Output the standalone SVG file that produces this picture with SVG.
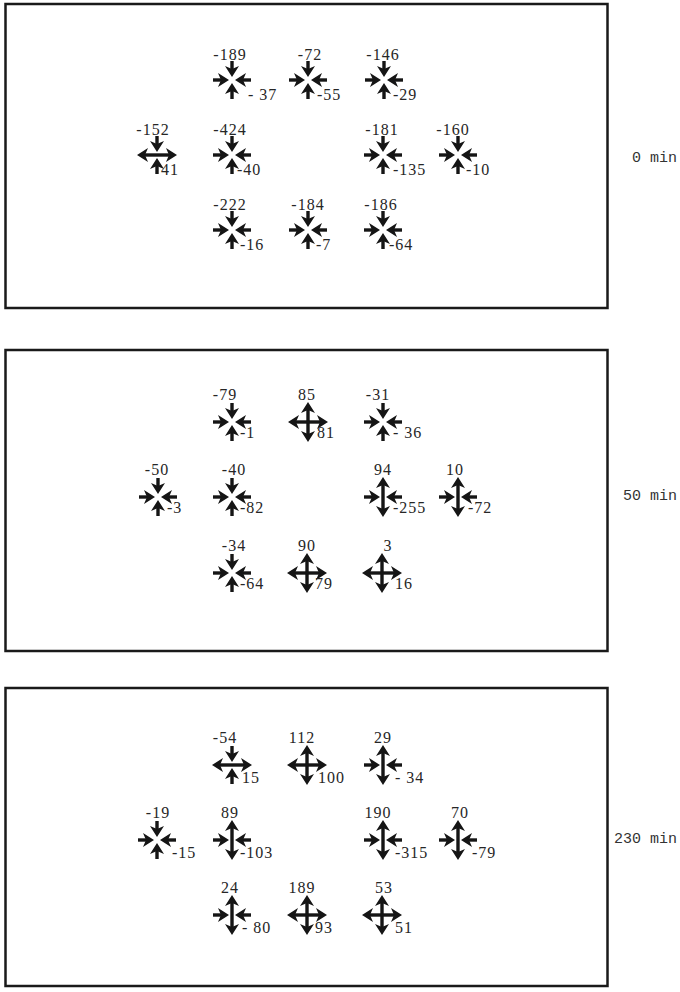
<svg xmlns="http://www.w3.org/2000/svg" width="680" height="992" viewBox="0 0 680 992">
<style>
.sh{stroke:#151515;stroke-width:3.4;fill:none}
.hd{fill:#151515}
.v{font-family:"Liberation Serif",serif;font-size:16px;fill:#262626;letter-spacing:1px}
.t{text-anchor:middle}
.tm{font-family:"Liberation Mono",monospace;font-size:15px;fill:#333;text-anchor:end}
.box{fill:none;stroke:#1a1a1a;stroke-width:2.5}
</style>
<defs>
<g id="inA"><path class="sh" d="M19,0 H10"/><path class="hd" d="M3,0 L14,-7 L11,0 L14,7 Z"/></g>
<g id="outA"><path class="sh" d="M0,0 H12"/><path class="hd" d="M20,0 L9,-7 L12,0 L9,7 Z"/></g>
<g id="vin"><use href="#inA" transform="rotate(90)"/><use href="#inA" transform="rotate(270)"/></g>
<g id="hin"><use href="#inA"/><use href="#inA" transform="rotate(180)"/></g>
<g id="vout"><use href="#outA" transform="rotate(90)"/><use href="#outA" transform="rotate(270)"/></g>
<g id="hout"><use href="#outA"/><use href="#outA" transform="rotate(180)"/></g>
</defs>
<rect width="680" height="992" fill="#ffffff"/>

<g id="panel-0min">
<rect class="box" x="5.5" y="4" width="602" height="304"/>
<text class="tm" x="677" y="162">0 min</text>
<g id="p0-a1" transform="translate(232,80)"><use href="#vin"/><use href="#hin"/><text class="v t" x="-2" y="-20">-189</text><text class="v" x="16" y="20">- 37</text></g>
<g id="p0-a2" transform="translate(308,80)"><use href="#vin"/><use href="#hin"/><text class="v t" x="2" y="-20">-72</text><text class="v" x="9" y="20">-55</text></g>
<g id="p0-a3" transform="translate(384,80)"><use href="#vin"/><use href="#hin"/><text class="v t" x="-1" y="-20">-146</text><text class="v" x="9" y="20">-29</text></g>
<g id="p0-b1" transform="translate(157,155)"><use href="#vin"/><use href="#hout"/><text class="v t" x="-4" y="-20">-152</text><text class="v" x="4" y="20">41</text></g>
<g id="p0-b2" transform="translate(232,155)"><use href="#vin"/><use href="#hin"/><text class="v t" x="-2" y="-20">-424</text><text class="v" x="5" y="20">-40</text></g>
<g id="p0-b3" transform="translate(383,155)"><use href="#vin"/><use href="#hin"/><text class="v t" x="-1" y="-20">-181</text><text class="v" x="10" y="20">-135</text></g>
<g id="p0-b4" transform="translate(458,155)"><use href="#vin"/><use href="#hin"/><text class="v t" x="-5" y="-20">-160</text><text class="v" x="8" y="20">-10</text></g>
<g id="p0-c1" transform="translate(232,230)"><use href="#vin"/><use href="#hin"/><text class="v t" x="-2" y="-20">-222</text><text class="v" x="8" y="20">-16</text></g>
<g id="p0-c2" transform="translate(308,230)"><use href="#vin"/><use href="#hin"/><text class="v t" x="0" y="-20">-184</text><text class="v" x="8" y="20">-7</text></g>
<g id="p0-c3" transform="translate(383,230)"><use href="#vin"/><use href="#hin"/><text class="v t" x="-2" y="-20">-186</text><text class="v" x="6" y="20">-64</text></g>
</g>

<g id="panel-50min">
<rect class="box" x="5.5" y="350" width="602" height="301"/>
<text class="tm" x="677" y="500">50 min</text>
<g id="p50-a1" transform="translate(232,422)"><use href="#vin"/><use href="#hin"/><text class="v t" x="-7" y="-22">-79</text><text class="v" x="8" y="16">-1</text></g>
<g id="p50-a2" transform="translate(308,422)"><use href="#vout"/><use href="#hout"/><text class="v t" x="-1" y="-22">85</text><text class="v" x="9" y="16">81</text></g>
<g id="p50-a3" transform="translate(383,422)"><use href="#vin"/><use href="#hin"/><text class="v t" x="-5" y="-22">-31</text><text class="v" x="10" y="16">- 36</text></g>
<g id="p50-b1" transform="translate(158,497)"><use href="#vin"/><use href="#hin"/><text class="v t" x="-1" y="-22">-50</text><text class="v" x="9" y="16">-3</text></g>
<g id="p50-b2" transform="translate(232,497)"><use href="#vin"/><use href="#hin"/><text class="v t" x="2" y="-22">-40</text><text class="v" x="8" y="16">-82</text></g>
<g id="p50-b3" transform="translate(383,497)"><use href="#vout"/><use href="#hin"/><text class="v t" x="0" y="-22">94</text><text class="v" x="10" y="16">-255</text></g>
<g id="p50-b4" transform="translate(458,497)"><use href="#vout"/><use href="#hin"/><text class="v t" x="-3" y="-22">10</text><text class="v" x="10" y="16">-72</text></g>
<g id="p50-c1" transform="translate(232,573)"><use href="#vin"/><use href="#hin"/><text class="v t" x="2" y="-22">-34</text><text class="v" x="8" y="16">-64</text></g>
<g id="p50-c2" transform="translate(307,573)"><use href="#vout"/><use href="#hout"/><text class="v t" x="0" y="-22">90</text><text class="v" x="8" y="16">79</text></g>
<g id="p50-c3" transform="translate(382,573)"><use href="#vout"/><use href="#hout"/><text class="v t" x="6" y="-22">3</text><text class="v" x="13" y="16">16</text></g>
</g>

<g id="panel-230min">
<rect class="box" x="5.5" y="688" width="602" height="298"/>
<text class="tm" x="677" y="843">230 min</text>
<g id="p230-a1" transform="translate(232,765)"><use href="#vin"/><use href="#hout"/><text class="v t" x="-7" y="-22">-54</text><text class="v" x="10" y="18">15</text></g>
<g id="p230-a2" transform="translate(307,765)"><use href="#vout"/><use href="#hout"/><text class="v t" x="-5" y="-22">112</text><text class="v" x="11" y="18">100</text></g>
<g id="p230-a3" transform="translate(383,765)"><use href="#vout"/><use href="#hin"/><text class="v t" x="0" y="-22">29</text><text class="v" x="12" y="18">- 34</text></g>
<g id="p230-b1" transform="translate(157,840)"><use href="#vin"/><use href="#hin"/><text class="v t" x="1" y="-22">-19</text><text class="v" x="15" y="18">-15</text></g>
<g id="p230-b2" transform="translate(232,840)"><use href="#vout"/><use href="#hin"/><text class="v t" x="-2" y="-22">89</text><text class="v" x="8" y="18">-103</text></g>
<g id="p230-b3" transform="translate(383,840)"><use href="#vout"/><use href="#hin"/><text class="v t" x="-5" y="-22">190</text><text class="v" x="12" y="18">-315</text></g>
<g id="p230-b4" transform="translate(458,840)"><use href="#vout"/><use href="#hin"/><text class="v t" x="2" y="-22">70</text><text class="v" x="14" y="18">-79</text></g>
<g id="p230-c1" transform="translate(232,915)"><use href="#vout"/><use href="#hin"/><text class="v t" x="-2" y="-22">24</text><text class="v" x="10" y="18">- 80</text></g>
<g id="p230-c2" transform="translate(307,915)"><use href="#vout"/><use href="#hout"/><text class="v t" x="-5" y="-22">189</text><text class="v" x="8" y="18">93</text></g>
<g id="p230-c3" transform="translate(382,915)"><use href="#vout"/><use href="#hout"/><text class="v t" x="2" y="-22">53</text><text class="v" x="13" y="18">51</text></g>
</g>
</svg>
